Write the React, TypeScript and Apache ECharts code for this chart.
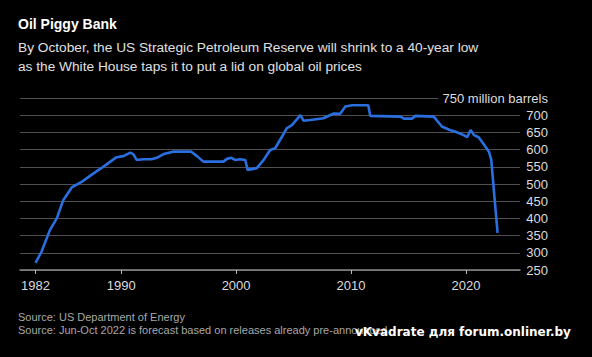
import React, { useEffect, useRef } from "react";
import * as echarts from "echarts";

const titleText = "Oil Piggy Bank";
const subtitleText =
  "By October, the US Strategic Petroleum Reserve will shrink to a 40-year low\nas the White House taps it to put a lid on global oil prices";
const sourceLines = [
  "Source: US Department of Energy",
  "Source: Jun-Oct 2022 is forecast based on releases already pre-announced",
];
const watermark = "vKvadrate для forum.onliner.by";

const years = [
  1982.55, 1983.07, 1983.8, 1984.4, 1984.96, 1985.7, 1986.6, 1987.6, 1988.4, 1989.6,
  1990.2, 1990.8, 1991.05, 1991.35, 1991.9, 1992.65, 1993.1, 1993.7, 1994.5, 1996.1,
  1996.6, 1997.15, 1998.9, 1999.2, 1999.6, 1999.9, 2000.35, 2000.8, 2001.0, 2001.8,
  2002.4, 2002.96, 2003.4, 2004.0, 2004.4, 2004.85, 2005.4, 2005.6, 2005.86, 2006.45,
  2007.6, 2008.5, 2009.06, 2009.5, 2010.1, 2011.5, 2011.67, 2014.3, 2014.6, 2015.3,
  2015.6, 2017.2, 2017.9, 2018.6, 2019.1, 2019.8, 2020.1, 2020.4, 2020.7, 2021.1,
  2021.5, 2022.0, 2022.2, 2022.45, 2022.75,
];
const barrels = [
  271, 303, 366, 400, 453, 490, 507, 531, 549, 578,
  581, 591, 587, 570, 572, 572, 576, 587, 594, 594,
  581, 565, 565, 573, 576, 570, 572, 570, 541, 546,
  570, 599, 604, 638, 662, 671, 692, 700, 684, 686,
  691, 705, 704, 725, 729, 729, 698, 696, 690, 690,
  698, 696, 667, 657, 652, 642, 636, 657, 642, 636,
  618, 594, 570, 473, 358,
];

const xTickValues = [1982.55, 1990, 2000, 2010, 2020];
const xTickLabels = ["1982", "1990", "2000", "2010", "2020"];
const yTopLabel = "750 million barrels";

export default function App() {
  const ref = useRef<HTMLDivElement>(null);
  useEffect(() => {
    document.body.style.margin = "0";
    document.body.style.background = "#000";
    const chart = echarts.init(ref.current!, null, { renderer: "svg" });
    const font = "'Liberation Sans', Arial, sans-serif";
    const data = years.map((y, i) => [y, barrels[i]]);
    chart.setOption({
      animation: false,
      backgroundColor: "#000",
      textStyle: { fontFamily: font },
      title: [
        {
          text: titleText,
          left: 18,
          top: 17,
          padding: 0,
          textStyle: { color: "#fff", fontSize: 14, fontWeight: "bold", fontFamily: font },
        },
        {
          text: subtitleText,
          left: 18,
          top: 38,
          padding: 0,
          textStyle: { color: "#e0e0e0", fontSize: 13.7, fontWeight: "normal", lineHeight: 19, fontFamily: font },
        },
        {
          text: sourceLines.join("\n"),
          left: 18,
          top: 310,
          padding: 0,
          textStyle: { color: "#a8a8a8", fontSize: 11, fontWeight: "normal", lineHeight: 13, fontFamily: font },
        },
        {
          text: watermark,
          left: 355,
          top: 326,
          padding: 0,
          textStyle: { color: "#fff", fontSize: 12, fontWeight: "bold", fontFamily: "'DejaVu Sans', sans-serif" },
        },
      ],
      grid: { left: 20, right: 72, top: 98, bottom: 87, containLabel: false },
      xAxis: {
        type: "value",
        min: 1981.2,
        max: 2024.7,
        splitLine: { show: false },
        axisLine: { show: true, lineStyle: { color: "#8a8a8a", width: 1.5 } },
        axisTick: {
          show: true,
          customValues: xTickValues,
          length: 4,
          inside: false,
          lineStyle: { color: "#bbb", width: 1 },
        },
        axisLabel: {
          customValues: xTickValues,
          formatter: (v: number) => {
            const i = xTickValues.findIndex((t) => Math.abs(t - v) < 0.01);
            return i >= 0 ? xTickLabels[i] : "";
          },
          color: "#dcdcdc",
          fontSize: 13,
          margin: 9,
          fontFamily: font,
        },
      },
      yAxis: {
        type: "value",
        position: "right",
        min: 250,
        max: 750,
        interval: 50,
        axisLine: { show: false },
        axisTick: { show: false },
        splitLine: { show: true, lineStyle: { color: "#505050", width: 1.2 } },
        axisLabel: {
          color: "#dcdcdc",
          fontSize: 13,
          align: "right",
          margin: 28,
          fontFamily: font,
          formatter: (v: number) => (v === 750 ? "{top|" + yTopLabel + "}" : String(v)),
          rich: {
            top: {
              color: "#dcdcdc",
              fontSize: 13,
              fontFamily: font,
              backgroundColor: "#000",
              padding: [0, 0, 0, 4],
            },
          },
        },
      },
      series: [
        {
          type: "line",
          data,
          symbol: "none",
          lineStyle: { color: "#2a6fe0", width: 2.6 },
          z: 5,
        },
      ],
    });
    return () => chart.dispose();
  }, []);
  return <div ref={ref} style={{ width: 592, height: 357, background: "#000" }} />;
}
